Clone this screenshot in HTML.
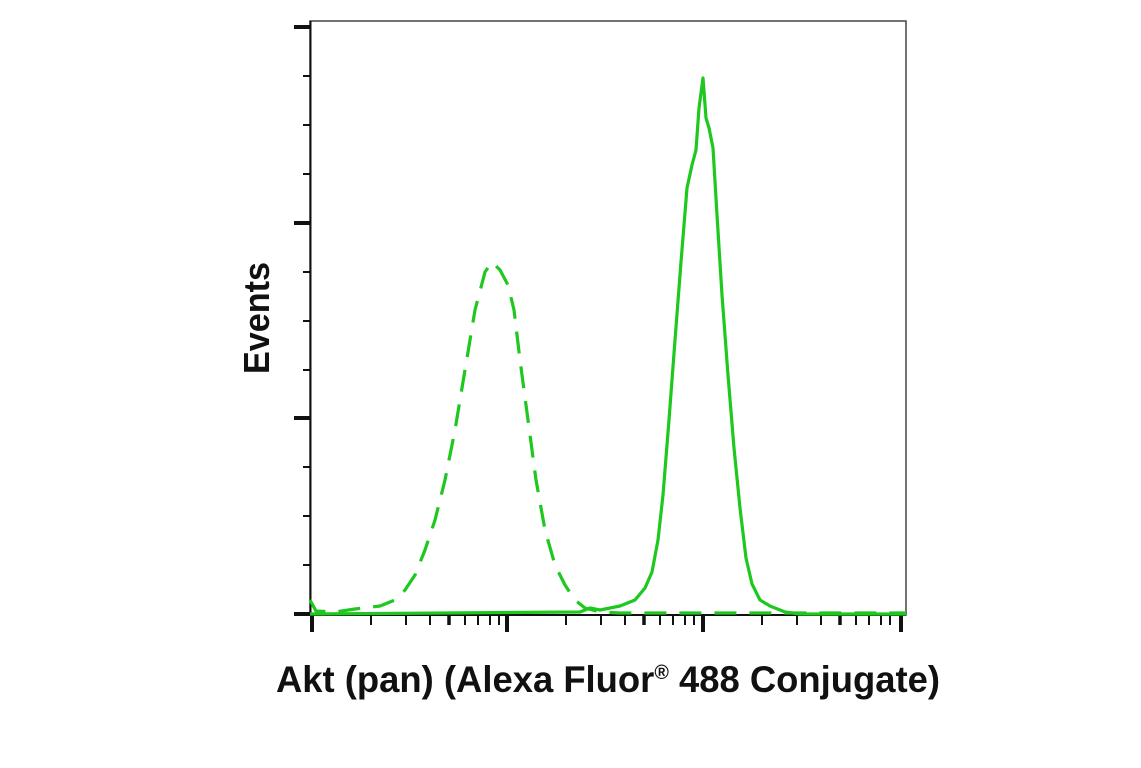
<!DOCTYPE html>
<html><head><style>body{margin:0;background:#fff}svg{display:block}</style></head><body>
<svg width="1141" height="768" viewBox="0 0 1141 768" xmlns="http://www.w3.org/2000/svg">
<rect width="1141" height="768" fill="#fff"/>
<rect x="310" y="21" width="596" height="594" fill="none" stroke="#444" stroke-width="1.5"/>
<line x1="310.5" y1="21" x2="310.5" y2="615" stroke="#111" stroke-width="2"/>
<line x1="310" y1="615" x2="906" y2="615" stroke="#111" stroke-width="2"/>
<g stroke="#111">
<g stroke-width="4">
<line x1="294" y1="27" x2="310" y2="27"/><line x1="294" y1="223" x2="310" y2="223"/>
<line x1="294" y1="418" x2="310" y2="418"/><line x1="294" y1="614" x2="310" y2="614"/>
</g>
<g stroke-width="2">
<line x1="303" y1="76" x2="310" y2="76"/><line x1="303" y1="125" x2="310" y2="125"/><line x1="303" y1="174" x2="310" y2="174"/>
<line x1="303" y1="272" x2="310" y2="272"/><line x1="303" y1="321" x2="310" y2="321"/><line x1="303" y1="370" x2="310" y2="370"/>
<line x1="303" y1="467" x2="310" y2="467"/><line x1="303" y1="516" x2="310" y2="516"/><line x1="303" y1="565" x2="310" y2="565"/>
</g>
<g id="dec">
<line x1="312" y1="616" x2="312" y2="632" stroke-width="4"/>
<g stroke-width="2">
<line x1="371" y1="616" x2="371" y2="625"/><line x1="406" y1="616" x2="406" y2="625"/><line x1="430" y1="616" x2="430" y2="625"/>
<line x1="449" y1="616" x2="449" y2="625" stroke-width="3.5"/><line x1="465" y1="616" x2="465" y2="625"/><line x1="478" y1="616" x2="478" y2="625"/>
<line x1="490" y1="616" x2="490" y2="625"/><line x1="499" y1="616" x2="499" y2="625"/>
</g></g>
<use href="#dec" x="195"/><use href="#dec" x="391"/>
<line x1="901" y1="616" x2="901" y2="632" stroke-width="4"/>
</g>
<polyline fill="none" stroke="#1ec81e" stroke-width="3.2" stroke-linejoin="round" points="310,614 580,612 590,608 600,610 620,606 635,600 645,588 652,572 658,540 663,495 669,420 675,340 681,262 687,188 692,165 696,150 699,108 703,78 706,118 709,128 713,148 717,215 722,295 728,375 734,448 740,508 746,558 752,584 760,600 770,606 785,612 800,614 906,614"/>
<polyline fill="none" stroke="#1ec81e" stroke-width="3.2" stroke-dasharray="22 13" stroke-linejoin="round" points="310,600 316,611 335,612 355,609 380,606 395,600 405,590 415,575 425,550 435,520 445,480 455,430 465,370 475,310 485,272 492,262 500,270 508,285 514,310 520,360 528,420 536,480 545,530 555,565 565,585 575,600 585,608 600,612 620,613 906,613"/>
<text x="0" y="0" transform="translate(269,318) rotate(-90)" text-anchor="middle" font-family="Liberation Sans, sans-serif" font-weight="bold" font-size="36" textLength="112" lengthAdjust="spacingAndGlyphs" fill="#111">Events</text>
<text x="608" y="692" text-anchor="middle" font-family="Liberation Sans, sans-serif" font-weight="bold" font-size="37" textLength="664" lengthAdjust="spacingAndGlyphs" fill="#111">Akt (pan) (Alexa Fluor<tspan font-size="20" dy="-13">®</tspan><tspan dy="13"> 488 Conjugate)</tspan></text>
</svg>
</body></html>
